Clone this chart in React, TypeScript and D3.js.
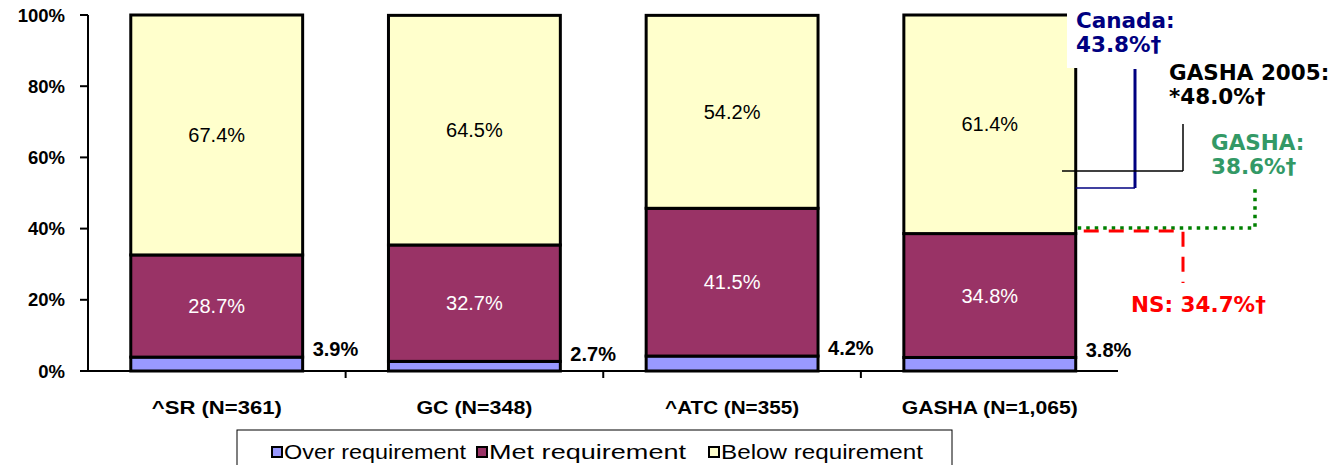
import React from 'react';
import * as d3 from 'd3';

const categories = ['^SR (N=361)', 'GC (N=348)', '^ATC (N=355)', 'GASHA (N=1,065)'];
const overReq = [3.9, 2.7, 4.2, 3.8];
const metReq = [28.7, 32.7, 41.5, 34.8];
const belowReq = [67.4, 64.5, 54.2, 61.4];
const seriesNames = ['Over requirement', 'Met requirement', 'Below requirement'];
const seriesColors = ['#9999FF', '#993366', '#FFFFCC'];
const yTicks = [0, 20, 40, 60, 80, 100];

const refNames = ['Canada:', 'GASHA 2005:', 'GASHA:', 'NS:'];
const refValues = ['43.8%†', '*48.0%†', '38.6%†', '34.7%†'];

const W = 1342;
const H = 465;
const ARIAL = '"Liberation Sans", Arial, sans-serif';
const VERDANA = '"DejaVu Sans", Verdana, sans-serif';

// label widths as stretched in the picture
const catLabelWidths = [130, 116, 134, 176];

const App: React.FC = () => {
  const x = d3.scaleBand().domain(categories).range([88, 1118.5]).paddingInner(0.333).paddingOuter(0.166);
  const band = d3.scaleBand().domain(categories).range([88, 1118.5]);
  const y = d3.scaleLinear().domain([0, 100]).range([371, 15]);

  const rows = categories.map((c, i) => ({ cat: c, over: overReq[i], met: metReq[i], below: belowReq[i] }));
  const stack = d3.stack<any>().keys(['over', 'met', 'below'])(rows);

  const gasha = categories[3];
  const barRight = (x(gasha) || 0) + x.bandwidth();

  return (
    <svg width={W} height={H} style={{ position: 'absolute', left: 0, top: 0, background: '#fff' }}>
      {/* y axis */}
      <line x1={88} x2={88} y1={y(100)} y2={y(0)} stroke="#000" strokeWidth={2} />
      {yTicks.map(t => (
        <g key={t}>
          <line x1={80} x2={88} y1={y(t)} y2={y(t)} stroke="#000" strokeWidth={2} />
          <text x={65} y={y(t)} dy="0.36em" textAnchor="end" fontFamily={ARIAL} fontWeight="bold" fontSize={18.5}>{t}%</text>
        </g>
      ))}
      {/* x axis */}
      <line x1={88} x2={1118} y1={y(0)} y2={y(0)} stroke="#000" strokeWidth={2} />
      {categories.slice(1).map(c => (
        <line key={c} x1={band(c)} x2={band(c)} y1={y(0)} y2={y(0) + 7} stroke="#000" strokeWidth={2} />
      ))}
      {categories.map((c, i) => (
        <text key={c} x={(band(c) || 0) + band.bandwidth() / 2 - catLabelWidths[i] / 2} y={414} fontFamily={ARIAL} fontWeight="bold" fontSize={17.5}
          textLength={catLabelWidths[i]} lengthAdjust="spacingAndGlyphs">{c}</text>
      ))}

      {/* bars */}
      {stack.map((s, si) => (
        <g key={si}>
          {s.map((d, i) => (
            <rect key={i} x={x(categories[i])} y={y(d[1])} width={x.bandwidth()} height={y(d[0]) - y(d[1])}
              fill={seriesColors[si]} stroke="#000" strokeWidth={3} />
          ))}
        </g>
      ))}

      {/* labels */}
      {rows.map((r, i) => {
        const cx = (x(r.cat) || 0) + x.bandwidth() / 2;
        return (
          <g key={i} fontFamily={ARIAL} fontSize={20}>
            <text x={cx} y={y(r.over + r.met / 2)} dy="0.36em" textAnchor="middle" fill="#fff">{r.met.toFixed(1)}%</text>
            <text x={cx} y={y(r.over + r.met + r.below / 2)} dy="0.36em" textAnchor="middle" fill="#000">{r.below.toFixed(1)}%</text>
            <text x={(x(r.cat) || 0) + x.bandwidth() + 10} y={y(r.over) - 8} dy="0.36em" textAnchor="start" fill="#000" fontWeight="bold">{r.over.toFixed(1)}%</text>
          </g>
        );
      })}

      {/* reference annotations */}
      <rect x={1067} y={0} width={112} height={68} fill="#fff" />
      <line x1={1135} x2={1135} y1={69} y2={y(51.4)} stroke="#000080" strokeWidth={3} />
      <line x1={1135} x2={barRight} y1={y(51.4)} y2={y(51.4)} stroke="#000080" strokeWidth={1.5} />
      <line x1={1062} x2={1183} y1={y(56.2)} y2={y(56.2)} stroke="#000" strokeWidth={1.5} />
      <line x1={1183} x2={1183} y1={124} y2={y(56.2)} stroke="#000" strokeWidth={1.5} />
      <polyline points={`${barRight + 2},${y(40.2)} 1255,${y(40.2)} 1255,187`} fill="none" stroke="#008000" strokeWidth={3.5} strokeDasharray="3.5 5" />
      <polyline points={`${barRight + 8},${y(39.3)} 1183,${y(39.3)} 1183,283`} fill="none" stroke="#FF0000" strokeWidth={3} strokeDasharray="15 10" />

      <g fontFamily={VERDANA} fontWeight="bold" fontSize={21.5}>
        <text x={1076} y={28} fill="#000080">{refNames[0]}</text>
        <text x={1076} y={52} fill="#000080">{refValues[0]}</text>
        <text x={1169} y={80} fill="#000">{refNames[1]}</text>
        <text x={1169} y={104} fill="#000">{refValues[1]}</text>
        <text x={1211} y={150} fill="#339966">{refNames[2]}</text>
        <text x={1211} y={174} fill="#339966">{refValues[2]}</text>
        <text x={1131} y={312} fill="#FF0000">{refNames[3]} {refValues[3]}</text>
      </g>

      {/* legend */}
      <rect x={237} y={430} width={715} height={40} fill="#fff" stroke="#000" strokeWidth={1} />
      {seriesNames.map((n, i) => {
        const lx = [272, 477, 709][i];
        const tl = [182, 197, 202][i];
        return (
          <g key={n}>
            <rect x={lx} y={447} width={10} height={10} fill={seriesColors[i]} stroke="#000" strokeWidth={2} />
            <text x={lx + 12} y={459} fontFamily={ARIAL} fontSize={21} textLength={tl} lengthAdjust="spacingAndGlyphs">{n}</text>
          </g>
        );
      })}
    </svg>
  );
};

export default App;
